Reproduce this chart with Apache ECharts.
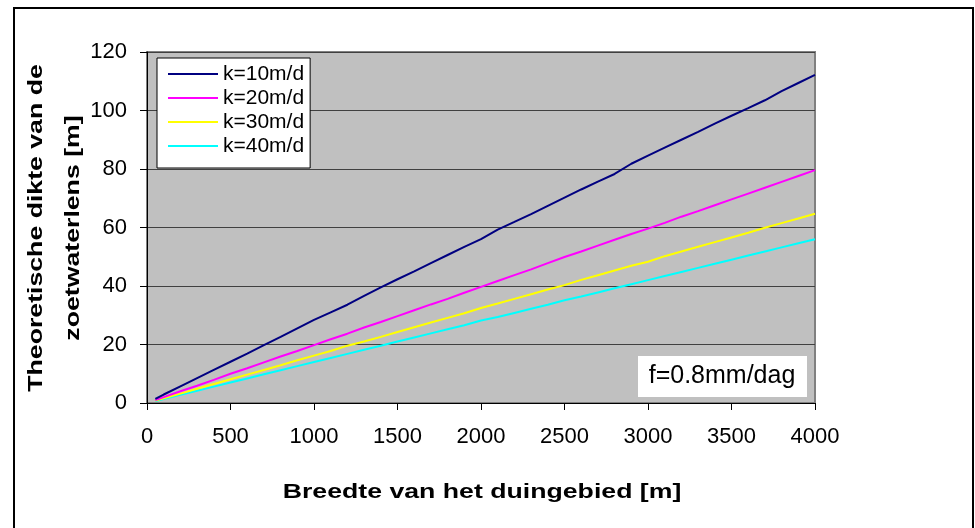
<!DOCTYPE html>
<html>
<head>
<meta charset="utf-8">
<script src="https://cdn.jsdelivr.net/npm/echarts@6/dist/echarts.min.js"></script>
<style>
html,body{margin:0;padding:0;background:#fff;}
#c{width:975px;height:528px;}
</style>
</head>
<body>
<div id="c"></div>
<script>
// Breedte van het duingebied [m]
var breedte = [50,100,200,300,400,500,600,700,800,900,1000,1100,1200,1300,1400,1500,1600,1700,1800,1900,2000,2100,2200,2300,2400,2500,2600,2700,2800,2900,3000,3100,3200,3300,3400,3500,3600,3700,3800,3900,4000];
var k10 = [1.4,2.9,5.7,8.5,11.3,14.1,16.9,19.8,22.6,25.5,28.4,31.0,33.6,36.6,39.5,42.3,45.0,47.8,50.6,53.4,56.0,59.3,61.9,64.6,67.4,70.2,73.0,75.7,78.3,81.8,84.6,87.3,90.0,92.7,95.5,98.2,100.8,103.5,106.6,109.4,112.2];
var k20 = [1.0,2.0,4.0,5.9,7.9,10.0,11.9,13.9,15.9,17.8,19.8,21.8,23.7,25.8,27.7,29.7,31.7,33.7,35.6,37.7,39.7,41.7,43.7,45.7,47.8,49.9,51.8,53.8,55.8,57.8,59.6,61.6,63.7,65.6,67.6,69.6,71.6,73.6,75.6,77.6,79.6];
var k30 = [0.8,1.6,3.2,4.9,6.5,8.1,9.7,11.3,12.9,14.6,16.2,17.8,19.6,21.0,22.6,24.3,25.9,27.5,29.1,30.7,32.5,34.0,35.6,37.2,38.8,40.3,42.1,43.7,45.3,46.9,48.3,50.2,51.8,53.4,55.0,56.6,58.2,59.9,61.5,63.1,64.7];
var k40 = [0.7,1.4,2.8,4.2,5.6,7.0,8.4,9.8,11.2,12.6,14.0,15.4,16.8,18.2,19.6,21.0,22.4,23.8,25.2,26.6,28.2,29.4,30.8,32.2,33.6,35.1,36.4,37.8,39.2,40.6,42.0,43.4,44.8,46.2,47.6,49.0,50.4,51.8,53.2,54.6,56.0];
var seriesNames = ['k=10m/d','k=20m/d','k=30m/d','k=40m/d'];
var seriesColors = ['#000080','#ff00ff','#ffff00','#00ffff'];
var xTicks = {min:0, max:4000, interval:500};
var yTicks = {min:0, max:120, interval:20};
var xTitle = 'Breedte van het duingebied [m]';
var yTitle = 'Theoretische dikte van de\nzoetwaterlens [m]';
var note = 'f=0.8mm/dag';

function pairs(ys){ return breedte.map(function(x,i){ return [x, ys[i]]; }); }
var allY = [k10,k20,k30,k40];
var FONT = '"Liberation Sans", Arial, sans-serif';

var chart = echarts.init(document.getElementById('c'), null, {renderer:'canvas'});
chart.setOption({
  animation:false,
  backgroundColor:'#ffffff',
  grid:{left:147, right:160, top:52, bottom:125, show:true, backgroundColor:'#c0c0c0', borderColor:'#808080', borderWidth:2},
  xAxis:{type:'value', min:xTicks.min, max:xTicks.max, interval:xTicks.interval,
    axisLine:{show:true, onZero:false, lineStyle:{color:'#000', width:1}},
    axisTick:{show:true, inside:false, length:7, lineStyle:{color:'#000'}},
    axisLabel:{color:'#000', fontSize:22, fontFamily:FONT, margin:23, formatter:function(v){return String(v);}},
    splitLine:{show:false}},
  yAxis:{type:'value', min:yTicks.min, max:yTicks.max, interval:yTicks.interval,
    axisLine:{show:true, lineStyle:{color:'#000', width:1}},
    axisTick:{show:true, inside:false, length:7, lineStyle:{color:'#000'}},
    axisLabel:{color:'#000', fontSize:22, fontFamily:FONT, margin:20},
    splitLine:{show:true, lineStyle:{color:'#404040', width:1}}},
  legend:{show:true, orient:'vertical', left:157, top:58, data:seriesNames,
    icon:'rect', itemWidth:50, itemHeight:2, itemGap:0,
    backgroundColor:'#ffffff', borderColor:'#000', borderWidth:1, padding:[4,6,10,11],
    textStyle:{color:'#000', fontSize:21, fontFamily:FONT, lineHeight:24}},
  graphic:[
    {type:'rect', silent:true, z:100, shape:{x:14, y:8, width:959, height:540}, style:{fill:'none', stroke:'#000', lineWidth:2}},
    {type:'rect', z:50, shape:{x:638, y:356, width:169, height:41}, style:{fill:'#fff', stroke:'none'}},
    {type:'text', z:51, x:722, y:376, style:{text:note, fill:'#000', font:'25px '+FONT, textAlign:'center', textVerticalAlign:'middle'}},
    {type:'text', z:51, x:482, y:492, scaleX:1.27, style:{text:xTitle, fill:'#000', font:'bold 21px '+FONT, textAlign:'center', textVerticalAlign:'middle'}},
    {type:'text', z:51, x:55, y:228, rotation:Math.PI/2, scaleX:1.27, style:{text:yTitle, fill:'#000', font:'bold 21px '+FONT, textAlign:'center', textVerticalAlign:'middle', lineHeight:37}}
  ],
  series: seriesNames.map(function(n,i){
    return {name:n, type:'line', data:pairs(allY[i]), showSymbol:false, symbol:'none',
      lineStyle:{color:seriesColors[i], width:2}, itemStyle:{color:seriesColors[i]}, z:3+(3-i)};
  })
});
</script>
</body>
</html>
